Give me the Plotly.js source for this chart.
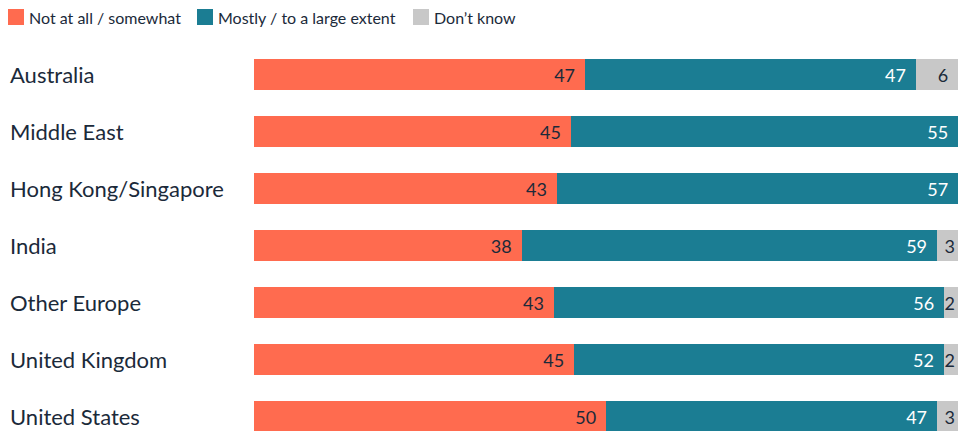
<!DOCTYPE html>
<html><head><meta charset="utf-8">
<script src="https://cdn.plot.ly/plotly-3.0.1.min.js"></script>
<style>body{margin:0;background:#fff}#c{width:968px;height:431px}</style>
</head><body><div id="c"></div>
<script>
const categories = ["Australia","Middle East","Hong Kong/Singapore","India","Other Europe","United Kingdom","United States"];
const notAtAll = [47,45,43,38,43,45,50];
const mostly = [47,55,57,59,56,52,47];
const dontKnow = [6,0,0,3,2,2,3];
const seriesNames = ["Not at all / somewhat","Mostly / to a large extent","Don\u2019t know"];
const colors = ["#FF6B4F","#1B7D93","#C8C8C8"];
const textColors = ["#1B2A3A","#FFFFFF","#1B2A3A"];

const W=968,H=431,L=254,R=10,T=46,B=0;
const pw=W-L-R, ph=H-T-B;
const band=57;
const FONT="Lato, 'Open Sans', sans-serif";
const dark="#1B2A3A";

const vals=[notAtAll,mostly,dontKnow];
const traces=vals.map((v,i)=>({
  type:'bar',orientation:'h',y:categories,x:v,name:seriesNames[i],
  marker:{color:colors[i],line:{width:0}},
  text:v.map(n=>n>0?(String(n)+(n>=5?'\u00a0\u2009':'')):''),textposition:'inside',insidetextanchor:'end',
  constraintext:'none',cliponaxis:false,
  textfont:{family:FONT,size:18,color:textColors[i]},
  hoverinfo:'none',showlegend:false
}));

const px2x=p=>(p-L)/pw, py2y=p=>(H-B-p)/ph;
const annotations=categories.map(c=>({xref:'paper',yref:'y',x:px2x(8),y:c,xanchor:'left',yanchor:'middle',
  text:c,showarrow:false,font:{family:FONT,size:22,color:dark}}));
const legX=[8,197,413];
const shapes=[];
seriesNames.forEach((n,i)=>{
  shapes.push({type:'rect',xref:'paper',yref:'paper',x0:px2x(legX[i]),x1:px2x(legX[i]+16),y0:py2y(25),y1:py2y(9),fillcolor:colors[i],line:{width:0}});
  annotations.push({xref:'paper',yref:'paper',x:px2x(legX[i]+19),y:py2y(17),xanchor:'left',yanchor:'middle',text:n,showarrow:false,font:{family:FONT,size:16,color:dark}});
});

const layout={
  width:W,height:H,margin:{l:L,r:R,t:T,b:B,pad:0},
  paper_bgcolor:'#fff',plot_bgcolor:'#fff',barmode:'stack',barnorm:'percent',bargap:0.456,
  xaxis:{range:[0,100],visible:false,fixedrange:true},
  yaxis:{type:'category',range:[-0.5+ph/band,-0.5],showticklabels:false,showgrid:false,zeroline:false,showline:false,ticks:''},
  showlegend:false,annotations:annotations,shapes:shapes,
  font:{family:FONT,color:dark}
};
Plotly.newPlot('c',traces,layout,{displayModeBar:false,staticPlot:true});
</script></body></html>
